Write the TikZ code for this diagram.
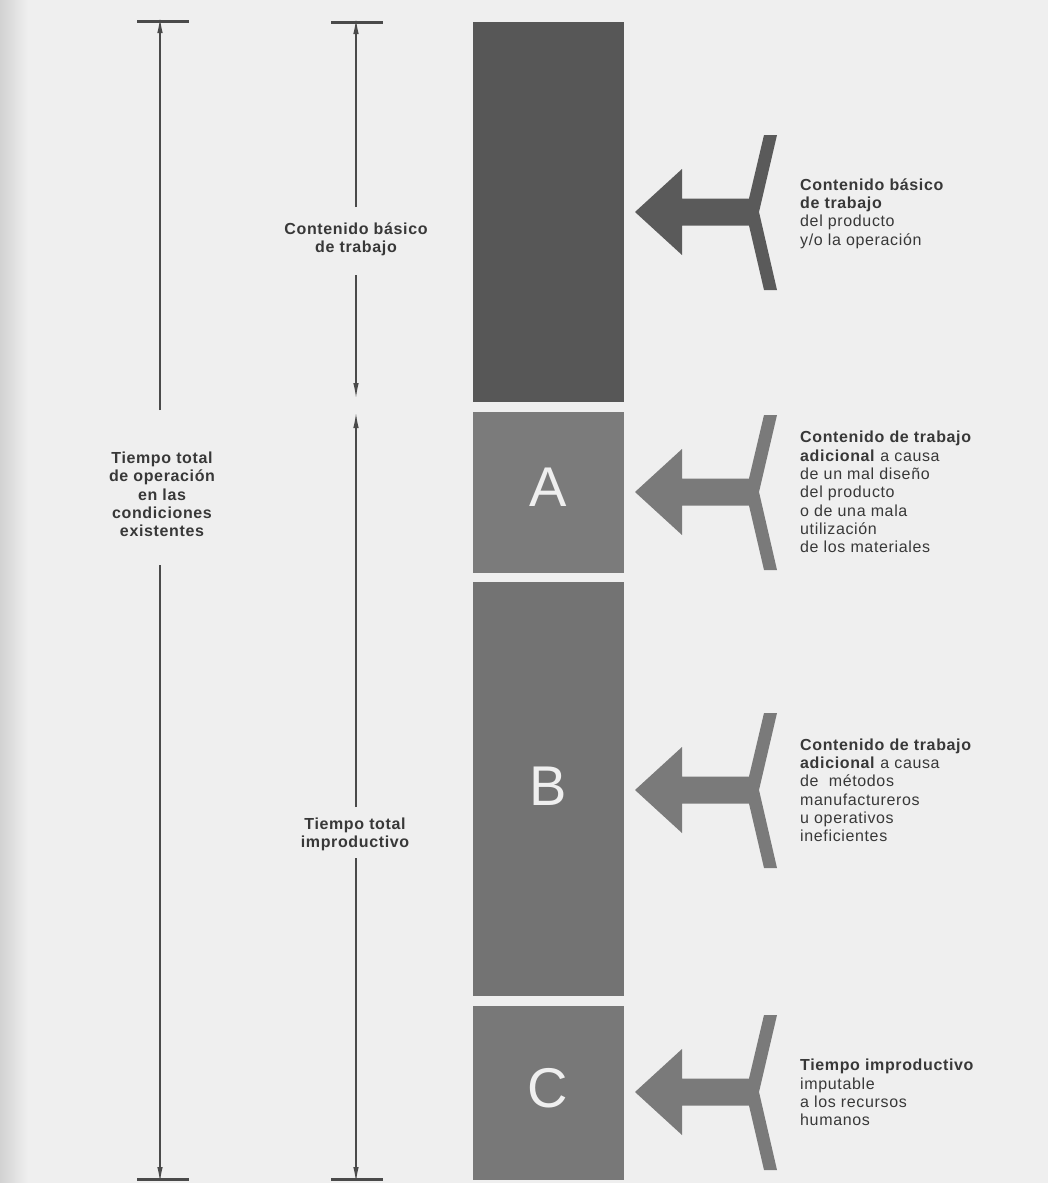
\documentclass[tikz,border=0pt]{standalone}
\usepackage{fontspec}
\setmainfont[LetterSpace=4]{Liberation Sans}
\newfontfamily\letterfont{Liberation Sans}
\usetikzlibrary{arrows.meta}
\definecolor{pagebg}{HTML}{EFEFEF}
\definecolor{pageshadow}{HTML}{D2D2D2}
\definecolor{barzero}{HTML}{575757}
\definecolor{bara}{HTML}{7B7B7B}
\definecolor{barb}{HTML}{737373}
\definecolor{barc}{HTML}{787878}
\definecolor{arrowdark}{HTML}{5A5A5A}
\definecolor{arrowlight}{HTML}{7A7A7A}
\definecolor{inkcol}{HTML}{383838}
\definecolor{linecol}{HTML}{4A4A4A}
\begin{document}
\begin{tikzpicture}[x=1pt,y=-1pt,
  bar/.style={rectangle,draw=none,minimum width=151pt,inner sep=0pt,outer sep=0pt},
  bigletter/.style={text=pagebg,font=\letterfont\fontsize{56}{60}\selectfont,inner sep=0pt},
  blocktxt/.style={text=inkcol,font=\fontsize{16}{18.3}\selectfont,align=left,inner sep=0pt,anchor=north west},
  centertxt/.style={text=inkcol,font=\bfseries\fontsize{16}{18.3}\selectfont,align=center,inner sep=0pt,anchor=north},
  dimline/.style={draw=linecol,line width=1.2pt,-{Latex[length=15pt,width=5.5pt]}},
  endbar/.style={draw=linecol,line width=3pt},
  bigarrow/.pic={\fill[#1] (0,0) -- (47,-43) -- (47,-13.5) -- (114,-13.5) -- (129,-77) -- (142,-77)
     -- (124,0) -- (142,78) -- (129,78) -- (114,13.5) -- (47,13.5) -- (47,43) -- cycle;}
]
% page
\useasboundingbox (0,0) rectangle (1048,1183);
\fill[pagebg] (0,0) rectangle (1048,1183);
\shade[left color=pageshadow,right color=pagebg] (0,0) rectangle (28,1183);

% bars
\node[bar,fill=barzero,minimum height=380pt] (bar0) at (548.5,212) {};
\node[bar,fill=bara,minimum height=161pt] (barA) at (548.5,492.5) {};
\node[bar,fill=barb,minimum height=414pt] (barB) at (548.5,789) {};
\node[bar,fill=barc,minimum height=174pt] (barC) at (548.5,1093) {};
\node[bigletter] (letA) at (548,487) {A};
\node[bigletter] (letB) at (548,786) {B};
\node[bigletter] (letC) at (548,1088) {C};

% block arrows
\pic at (635,212) {bigarrow=arrowdark};
\pic at (635,492) {bigarrow=arrowlight};
\pic at (635,790) {bigarrow=arrowlight};
\pic at (635,1092) {bigarrow=arrowlight};

% right-hand texts
\node[blocktxt] (t1) at (800,177.5) {\rule{0pt}{12.5pt}\textbf{Contenido básico}\\\textbf{de trabajo}\\del producto\\y/o la operación};
\node[blocktxt] (t2) at (800,430.2) {\rule{0pt}{12.5pt}\textbf{Contenido de trabajo}\\\textbf{adicional} a causa\\de un mal diseño\\del producto\\o de una mala\\utilización\\de los materiales};
\node[blocktxt] (t3) at (800,737.5) {\rule{0pt}{12.5pt}\textbf{Contenido de trabajo}\\\textbf{adicional} a causa\\de\ \ métodos\\manufactureros\\u operativos\\ineficientes};
\node[blocktxt] (t4) at (800,1058.2) {\rule{0pt}{12.5pt}\textbf{Tiempo improductivo}\\imputable\\a los recursos\\humanos};

% left texts
\node[centertxt] (basic) at (356,221.5) {\rule{0pt}{12.5pt}Contenido básico\\de trabajo};
\node[centertxt] (total) at (162,450.8) {\rule{0pt}{12.5pt}Tiempo total\\de operación\\en las\\condiciones\\existentes};
\node[centertxt] (improd) at (355,816.8) {\rule{0pt}{12.5pt}Tiempo total\\improductivo};

% dimension end bars
\coordinate (LT) at (160,21);
\coordinate (LB) at (160,1179);
\coordinate (RT) at (356,22);
\coordinate (RB) at (356,1179);
\draw[endbar] ([xshift=-23pt]LT) -- ([xshift=29pt]LT);
\draw[endbar] ([xshift=-23pt]LB) -- ([xshift=29pt]LB);
\draw[endbar] ([xshift=-25pt]RT) -- ([xshift=27pt]RT);
\draw[endbar] ([xshift=-25pt]RB) -- ([xshift=27pt]RB);

% left dimension line
\coordinate (L1) at (160,410);
\coordinate (L2) at (160,565);
\draw[dimline] (L1) -- ([yshift=3pt]LT);
\draw[dimline] (L2) -- ([yshift=-3pt]LB);

% right dimension lines
\coordinate (R1) at (356,207);
\coordinate (R2) at (356,275);
\coordinate (R3) at (356,398);
\coordinate (R4) at (356,413);
\coordinate (R5) at (356,807);
\coordinate (R6) at (356,858);
\draw[dimline] (R1) -- ([yshift=3pt]RT);
\draw[dimline] (R2) -- (R3);
\draw[dimline] (R5) -- (R4);
\draw[dimline] (R6) -- ([yshift=-3pt]RB);
\end{tikzpicture}
\end{document}
